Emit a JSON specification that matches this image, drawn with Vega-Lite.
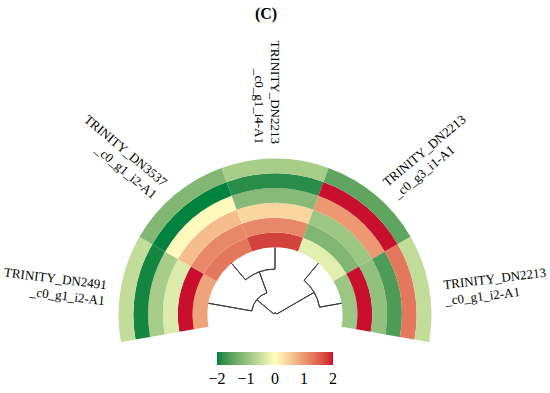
{
  "$schema": "https://vega.github.io/schema/vega-lite/v6.json",
  "width": 550,
  "height": 363,
  "autosize": {"type": "none"},
  "padding": {"top": 30, "left": 0, "right": 0, "bottom": 0},
  "background": "white",
  "config": {
    "view": {"stroke": null},
    "font": "Liberation Serif",
    "text": {"font": "Liberation Serif"},
    "title": {"font": "Liberation Serif"},
    "legend": {"labelFont": "Liberation Serif"}
  },
  "title": {"text": "(C)", "font": "Liberation Serif", "fontWeight": "bold", "fontSize": 16, "color": "black", "anchor": "middle", "frame": "group", "offset": 8, "dx": -9},
  "datasets": {
    "cells": [
      {"sector": 1, "ring": 1, "value": 0.9},
      {"sector": 1, "ring": 2, "value": 2.0},
      {"sector": 1, "ring": 3, "value": -0.3},
      {"sector": 1, "ring": 4, "value": -0.8},
      {"sector": 1, "ring": 5, "value": -1.95},
      {"sector": 1, "ring": 6, "value": -0.55},
      {"sector": 2, "ring": 1, "value": 1.3},
      {"sector": 2, "ring": 2, "value": 1.15},
      {"sector": 2, "ring": 3, "value": 0.65},
      {"sector": 2, "ring": 4, "value": 0.05},
      {"sector": 2, "ring": 5, "value": -2.0},
      {"sector": 2, "ring": 6, "value": -1.15},
      {"sector": 3, "ring": 1, "value": 1.75},
      {"sector": 3, "ring": 2, "value": 1.15},
      {"sector": 3, "ring": 3, "value": 0.4},
      {"sector": 3, "ring": 4, "value": -1.1},
      {"sector": 3, "ring": 5, "value": -1.85},
      {"sector": 3, "ring": 6, "value": -0.8},
      {"sector": 4, "ring": 1, "value": -0.25},
      {"sector": 4, "ring": 2, "value": -1.15},
      {"sector": 4, "ring": 3, "value": -0.9},
      {"sector": 4, "ring": 4, "value": 1.0},
      {"sector": 4, "ring": 5, "value": 2.0},
      {"sector": 4, "ring": 6, "value": -1.45},
      {"sector": 5, "ring": 1, "value": -0.9},
      {"sector": 5, "ring": 2, "value": 2.0},
      {"sector": 5, "ring": 3, "value": -1.0},
      {"sector": 5, "ring": 4, "value": -1.6},
      {"sector": 5, "ring": 5, "value": 1.3},
      {"sector": 5, "ring": 6, "value": -0.55}
    ],
    "dendro": [
      {"a1": 0.5, "a2": 0.5, "h1": 0, "h2": 0.65},
      {"a1": 1.5, "a2": 1.5, "h1": 0, "h2": 0.32},
      {"a1": 2.5, "a2": 2.5, "h1": 0, "h2": 0.32},
      {"a1": 3.5, "a2": 3.5, "h1": 0, "h2": 0.33},
      {"a1": 4.5, "a2": 4.5, "h1": 0, "h2": 0.33},
      {"a1": 2.0, "a2": 2.0, "h1": 0.32, "h2": 0.65},
      {"a1": 1.25, "a2": 1.25, "h1": 0.65, "h2": 0.97},
      {"a1": 4.0, "a2": 4.0, "h1": 0.33, "h2": 0.97},
      {"a1": 1.5, "a2": 2.5, "h1": 0.32, "h2": 0.32},
      {"a1": 3.5, "a2": 4.5, "h1": 0.33, "h2": 0.33},
      {"a1": 0.5, "a2": 2.0, "h1": 0.65, "h2": 0.65},
      {"a1": 1.25, "a2": 4.0, "h1": 0.97, "h2": 0.97}
    ],
    "labels": [
      {"sector": 1, "label": "TRINITY_DN2491\n_c0_g1_i2-A1"},
      {"sector": 2, "label": "TRINITY_DN3537\n_c0_g1_i2-A1"},
      {"sector": 3, "label": "TRINITY_DN2213\n_c0_g1_i4-A1"},
      {"sector": 4, "label": "TRINITY_DN2213\n_c0_g3_i1-A1"},
      {"sector": 5, "label": "TRINITY_DN2213\n_c0_g1_i2-A1"}
    ]
  },
  "layer": [
    {
      "data": {"name": "cells"},
      "transform": [
        {"calculate": "datum.sector - 1", "as": "s0"},
        {"calculate": "datum.ring - 1", "as": "r0"}
      ],
      "mark": {"type": "arc", "x": {"expr": "width/2"}, "y": {"expr": "height - 78"}},
      "encoding": {
        "theta": {"field": "s0", "type": "quantitative", "stack": null, "scale": {"domain": [0, 5], "range": [-1.7453, 1.7453], "zero": false, "nice": false}},
        "theta2": {"field": "sector"},
        "radius": {"field": "r0", "type": "quantitative", "scale": {"type": "linear", "domain": [0, 6], "range": [67.5, 156.5], "zero": false, "nice": false}},
        "radius2": {"field": "ring"},
        "color": {
          "field": "value", "type": "quantitative",
          "scale": {"domain": [-2, 0, 2], "range": ["#00833f", "#ffffbf", "#c8102e"], "interpolate": "lab", "clamp": true},
          "legend": {
            "orient": "none", "legendX": 217, "legendY": 322, "direction": "horizontal",
            "gradientLength": 116, "gradientThickness": 13, "title": null,
            "values": [-2, -1, 0, 1, 2],
            "labelFont": "Liberation Serif", "labelFontSize": 16, "labelColor": "black",
            "labelAlign": "center", "labelOffset": 6, "labelOverlap": false, "gradientStrokeWidth": 0,
            "encode": {"labels": {"update": {"align": {"value": "center"}, "font": {"value": "Liberation Serif"}}}}
          }
        }
      }
    },
    {
      "data": {"name": "dendro"},
      "mark": {"type": "arc", "filled": false, "stroke": "#3a3a3a", "strokeWidth": 1, "x": {"expr": "width/2"}, "y": {"expr": "height - 78"}},
      "encoding": {
        "theta": {"field": "a1", "type": "quantitative", "stack": null, "scale": {"domain": [0, 5], "range": [-1.7453, 1.7453], "zero": false, "nice": false}},
        "theta2": {"field": "a2"},
        "radius": {"field": "h1", "type": "quantitative", "scale": {"type": "linear", "domain": [0, 1], "range": [67.5, 0], "zero": false, "nice": false}},
        "radius2": {"field": "h2"}
      }
    },
    {
      "data": {"name": "labels"},
      "transform": [
        {"filter": "datum.sector <= 3"},
        {"calculate": "datum.sector - 0.5", "as": "pos"},
        {"calculate": "(datum.pos / 5) * 200 - 100", "as": "va"},
        {"calculate": "atan2(0.7 * cos(datum.va * PI / 180), abs(sin(datum.va * PI / 180))) * 180 / PI", "as": "rot"}
      ],
      "mark": {"type": "text", "align": "right", "baseline": "middle", "lineBreak": "\n", "font": "Liberation Serif", "fontSize": 13, "lineHeight": 16, "color": "black", "x": {"expr": "width/2"}, "y": {"expr": "height - 78"}},
      "encoding": {
        "theta": {"field": "pos", "type": "quantitative", "stack": null, "scale": {"domain": [0, 5], "range": [-1.7453, 1.7453], "zero": false, "nice": false}},
        "radius": {"value": 171},
        "angle": {"field": "rot", "type": "quantitative", "scale": null},
        "text": {"field": "label"}
      }
    },
    {
      "data": {"name": "labels"},
      "transform": [
        {"filter": "datum.sector >= 4"},
        {"calculate": "datum.sector - 0.5", "as": "pos"},
        {"calculate": "(datum.pos / 5) * 200 - 100", "as": "va"},
        {"calculate": "-atan2(0.7 * cos(datum.va * PI / 180), abs(sin(datum.va * PI / 180))) * 180 / PI", "as": "rot"}
      ],
      "mark": {"type": "text", "align": "left", "baseline": "middle", "lineBreak": "\n", "font": "Liberation Serif", "fontSize": 13, "lineHeight": 16, "color": "black", "x": {"expr": "width/2"}, "y": {"expr": "height - 78"}},
      "encoding": {
        "theta": {"field": "pos", "type": "quantitative", "stack": null, "scale": {"domain": [0, 5], "range": [-1.7453, 1.7453], "zero": false, "nice": false}},
        "radius": {"value": 171},
        "angle": {"field": "rot", "type": "quantitative", "scale": null},
        "text": {"field": "label"}
      }
    }
  ],
  "resolve": {"scale": {"radius": "independent"}}
}
